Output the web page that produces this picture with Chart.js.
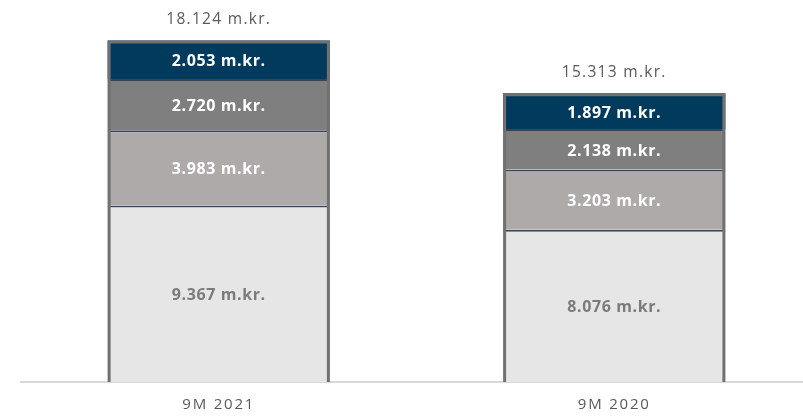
<!DOCTYPE html>
<html><head><meta charset="utf-8">
<script src="https://cdn.jsdelivr.net/npm/chart.js@4/dist/chart.umd.min.js"></script>
<style>html,body{margin:0;padding:0;background:#fff;overflow:hidden}#wrap{width:812px;height:416px}</style>
</head><body><div id="wrap"><canvas id="c"></canvas></div>
<script>
const categories = ["9M 2021", "9M 2020"];
const seriesBase = [9367, 8076];
const seriesMid = [3983, 3203];
const seriesUpper = [2720, 2138];
const seriesTop = [2053, 1897];
const totals = [18124, 15313];
const unit = " m.kr.";

function fmt(v){ return v.toLocaleString('de-DE') + unit; }

const FONT = "'Open Sans', sans-serif";

const spacingPlugin = {
  id: 'spacing',
  beforeDraw(chart){ chart.ctx.letterSpacing = '1.8px'; }
};

const labelPlugin = {
  id: 'labels',
  afterDatasetsDraw(chart){
    const ctx = chart.ctx;
    const n = chart.data.datasets.length;
    const ys = chart.scales.y;
    ctx.save();
    const topMeta = chart.getDatasetMeta(n - 1);
    const baseMeta = chart.getDatasetMeta(0);
    ctx.strokeStyle = '#717171';
    ctx.lineWidth = 3;
    topMeta.data.forEach((el, i) => {
      const b = baseMeta.data[i];
      const l = el.x - el.width / 2 + 1.5, r = el.x + el.width / 2 - 1.5;
      const t = el.y + 1.5, bot = b.base;
      ctx.beginPath();
      ctx.moveTo(l, bot); ctx.lineTo(l, t); ctx.lineTo(r, t); ctx.lineTo(r, bot);
      ctx.stroke();
    });
    ctx.textAlign = 'center';
    ctx.textBaseline = 'middle';
    chart.data.datasets.forEach((ds, di) => {
      const meta = chart.getDatasetMeta(di);
      meta.data.forEach((el, i) => {
        const y = (el.y + el.base) / 2 + 2;
        ctx.font = "bold 16px " + FONT;
        ctx.letterSpacing = '0.6px';
        ctx.fillStyle = ds.labelColor;
        ctx.fillText(fmt(ds.data[i]), el.x, y);
      });
    });
    totals.forEach((t, i) => {
      const el = topMeta.data[i];
      ctx.font = "15.5px " + FONT;
      ctx.letterSpacing = '1.3px';
      ctx.fillStyle = '#595959';
      ctx.fillText(fmt(t), el.x, ys.getPixelForValue(t) - 21);
    });
    ctx.restore();
  }
};

const sep = '#3a4456';
function ds(data, bg, lc, bw){
  return { data, backgroundColor: bg, borderColor: sep, borderWidth: bw, labelColor: lc, borderSkipped: false };
}

new Chart(document.getElementById('c'), {
  type: 'bar',
  data: {
    labels: categories,
    datasets: [
      ds(seriesBase, '#e6e6e6', '#7b7b7b', {left:0,right:0,top:2,bottom:0}),
      ds(seriesMid, '#aeaaa9', '#ffffff', {left:0,right:0,top:2,bottom:0}),
      ds(seriesUpper, '#7f7f7f', '#ffffff', {left:0,right:0,top:2,bottom:0}),
      ds(seriesTop, '#003a5d', '#ffffff', {left:0,right:0,top:0,bottom:0})
    ]
  },
  options: {
    responsive: true,
    maintainAspectRatio: false,
    animation: false,
    layout: { padding: { left: 21, right: 0, top: 5, bottom: 0 } },
    plugins: { legend: { display: false }, tooltip: { enabled: false } },
    datasets: { bar: { barPercentage: 0.562, categoryPercentage: 1 } },
    scales: {
      x: {
        stacked: true,
        grid: { display: false, drawTicks: false },
        border: { display: true, color: '#d9d9d9', width: 2 },
        ticks: { color: '#595959', font: { family: FONT, size: 15 }, padding: 14 },
        afterFit(scale){ scale.height = 34; }
      },
      y: {
        stacked: true,
        display: false,
        min: 0,
        max: 20000
      }
    }
  },
  plugins: [spacingPlugin, labelPlugin]
});
</script></body></html>
